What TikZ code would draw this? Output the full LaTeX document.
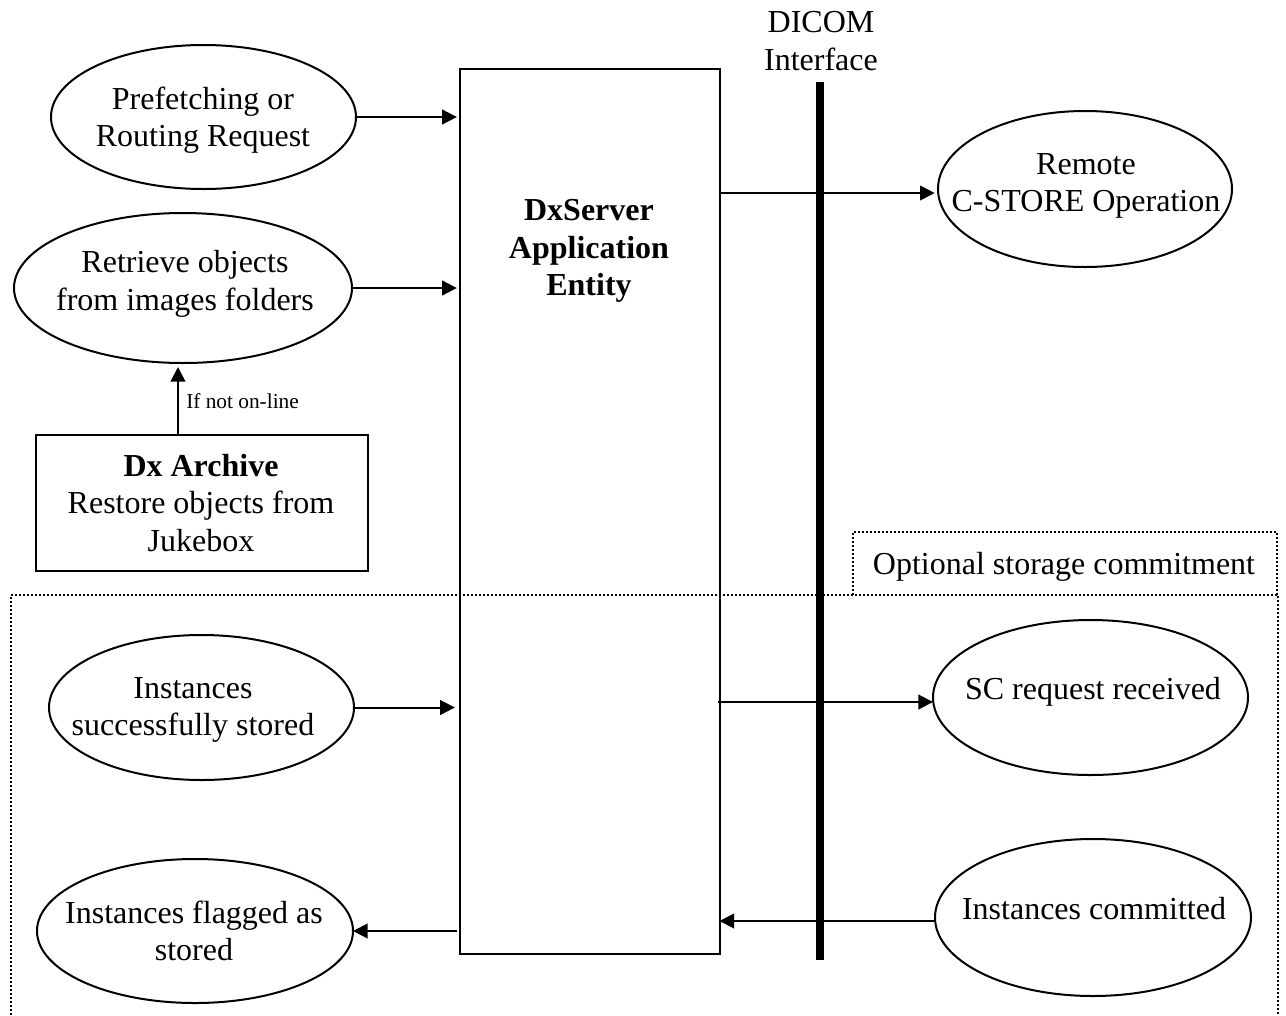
\documentclass[tikz,border=0pt]{standalone}
\usepackage{fontspec}
\setmainfont{Liberation Serif}
\usetikzlibrary{shapes.geometric,arrows.meta}
\tikzset{
  px/.style={x=0.75pt,y=-0.75pt},
  oval/.style={draw=black,line width=1.5pt,ellipse,inner sep=0pt,outer sep=0pt},
  blk/.style={draw=black,line width=1.5pt,rectangle,inner sep=0pt,outer sep=0pt},
  txt/.style={align=center,inner sep=0pt,font=\fontsize{24}{28.1}\selectfont},
  small/.style={inner sep=0pt,font=\fontsize{16}{19}\selectfont},
  conn/.style={line width=1.5pt,-{Triangle[length=11pt,width=11pt]}},
  dot/.style={line width=1.5pt,dash pattern=on 1.5pt off 1.5pt,black}
}
\newcommand{\ovalat}[5]{\node[oval,minimum width=#4*0.75pt,minimum height=#5*0.75pt] (#1) at (#2,#3) {};}
\begin{document}
\begin{tikzpicture}[px]
\useasboundingbox (0,0) rectangle (1286,1015);
\coordinate (fa) at (11,1015);
\coordinate (fb) at (11,595);
\coordinate (fc) at (1278,595);
\coordinate (fd) at (1278,1015);
\coordinate (oa) at (853,595);
\coordinate (ob) at (853,532);
\coordinate (oc) at (1277,532);
\coordinate (od) at (1277,595);
\draw[dot] (fa) -- (fb) -- (fc) -- (fd);
\draw[dot] (oa) -- (ob) -- (oc) -- (od);
\node[txt] (opt) at (1064,567) {Optional storage commitment};
\node[blk,minimum width=260*0.75pt,minimum height=885*0.75pt] (main) at (589.5,511.5) {};
\node[txt,font=\fontsize{24}{28.1}\selectfont\bfseries] (maint) at (589,251) {DxServer\\Application\\Entity};
\coordinate (bart) at (820,82);
\coordinate (barb) at (820,960);
\draw[line width=6pt] (bart) -- (barb);
\node[txt] (dicom) at (821,41) {DICOM\\Interface};
\ovalat{pre}{203.5}{117}{305}{144}
\node[txt] (pret) at (203,120) {Prefetching or\\Routing Request};
\ovalat{ret}{183}{288}{338}{150}
\node[txt] (rett) at (185,284) {Retrieve objects\\from images folders};
\ovalat{rem}{1085}{189}{294}{156}
\node[txt] (remt) at (1086,186) {Remote\\C-STORE Operation};
\ovalat{sc}{1090.5}{697.5}{315}{155}
\node[txt] (sct) at (1093,692) {SC request received};
\ovalat{com}{1093}{917.5}{316}{157}
\node[txt] (comt) at (1094,909) {Instances committed};
\ovalat{suc}{201.5}{707.5}{305}{145}
\node[txt] (suct) at (193,710) {Instances\\successfully stored};
\ovalat{fla}{195}{931}{316}{144}
\node[txt] (flat) at (194,931) {Instances flagged as\\stored};
\node[blk,minimum width=332*0.75pt,minimum height=136*0.75pt] (arc) at (201.5,502.5) {};
\node[txt] (arct) at (201,503) {\textbf{Dx Archive}\\Restore objects from\\Jukebox};
\draw[conn,shorten >=2pt] (pre.east) -- (pre.east -| main.west);
\draw[conn,shorten >=2pt] (ret.east) -- (ret.east -| main.west);
\coordinate (arctop) at (178,434);
\coordinate (rettop) at (178,367);
\draw[conn] (arc.north -| arctop) -- (rettop);
\node[small,anchor=west] (ifnot) at (186,401) {If not on-line};
\coordinate (mr1) at (720,193);
\draw[conn,shorten >=2.5pt] (mr1) -- (mr1 -| rem.west);
\draw[conn,shorten >=3.5pt] (suc.east) -- (suc.east -| main.west);
\coordinate (mr2) at (718,702);
\draw[conn] (mr2) -- (mr2 -| sc.west);
\coordinate (cl) at (936,921);
\draw[conn] (cl) -- (cl -| main.east);
\coordinate (ml) at (457,931);
\draw[conn] (ml) -- (fla.east);
\end{tikzpicture}
\end{document}
